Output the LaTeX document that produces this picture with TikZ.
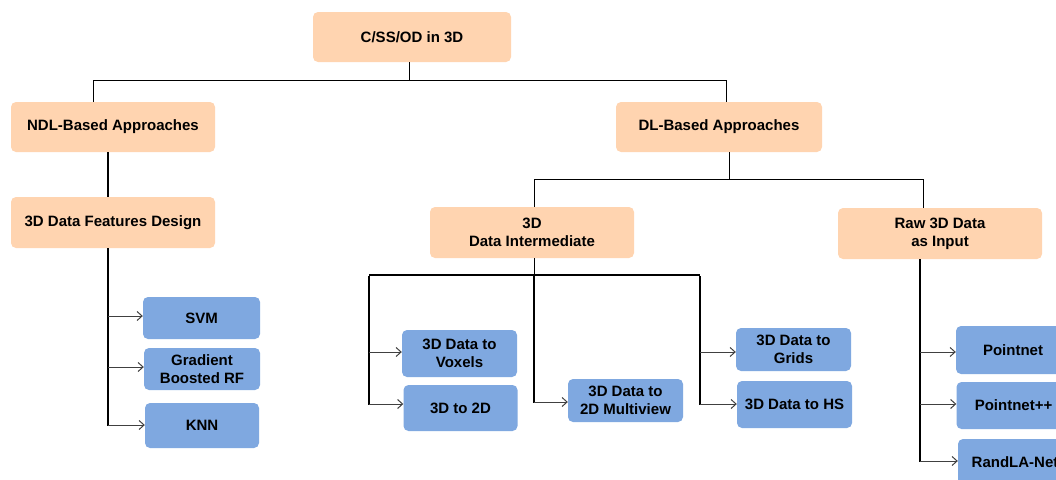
\documentclass[tikz,border=0pt]{standalone}
\usepackage{fontspec}
\setmainfont{Liberation Sans}
\usetikzlibrary{arrows.meta}
\definecolor{peach}{HTML}{FFD4B0}
\definecolor{bluebox}{HTML}{7FA8E0}
\begin{document}
\begin{tikzpicture}[x=1pt,y=-1pt,
  box/.style={rounded corners=5pt, align=center, inner sep=0pt,
    font=\fontsize{15}{18}\selectfont\bfseries},
  obox/.style={box, fill=peach},
  bbox/.style={box, fill=bluebox},
  thin/.style={line width=1pt, black},
  thick/.style={line width=2.5pt, black},
  arr/.style={line width=1pt, black!75, -{Straight Barb[length=5pt,width=9pt,line width=1pt]}}]
\clip (0,0) rectangle (1056,479);
\fill[white] (0,0) rectangle (1056,479);

% orange nodes
\node[obox, minimum width=198pt, minimum height=50pt] (root) at (412,37) {C/SS/OD in 3D};
\node[obox, minimum width=204pt, minimum height=50pt] (ndl) at (113,127) {NDL-Based Approaches};
\node[obox, minimum width=204pt, minimum height=51pt] (feat) at (113,222.5) {3D Data Features Design};
\node[obox, minimum width=206pt, minimum height=50pt] (dl) at (719,127) {DL-Based Approaches};
\node[obox, minimum width=204pt, minimum height=51pt] (inter) at (532,232.5) {3D\\Data Intermediate};
\node[obox, minimum width=204pt, minimum height=51pt] (raw) at (940,233.5) {Raw 3D Data\\as Input};

% blue nodes
\node[bbox, minimum width=117pt, minimum height=42pt] (svm) at (201.5,318) {SVM};
\node[bbox, minimum width=116pt, minimum height=42pt] (gbrf) at (202,369) {Gradient\\Boosted RF};
\node[bbox, minimum width=114pt, minimum height=45pt] (knn) at (202,425.5) {KNN};
\node[bbox, minimum width=115pt, minimum height=47pt] (vox) at (459.5,353.5) {3D Data to\\Voxels};
\node[bbox, minimum width=114pt, minimum height=46pt] (t2d) at (460.5,408) {3D to 2D};
\node[bbox, minimum width=115pt, minimum height=43pt] (mv) at (625.5,400.5) {3D Data to\\2D Multiview};
\node[bbox, minimum width=115pt, minimum height=43pt] (grids) at (793.5,349.5) {3D Data to\\Grids};
\node[bbox, minimum width=115pt, minimum height=47pt] (hs) at (794.5,404.5) {3D Data to HS};
\node[bbox, minimum width=114pt, minimum height=48pt] (pn) at (1013,350) {Pointnet};
\node[bbox, minimum width=114pt, minimum height=47pt] (pnpp) at (1013.5,405.5) {Pointnet++};
\node[bbox, minimum width=114pt, minimum height=47pt] (rla) at (1015,462.5) {RandLA-Net};

% top level tree
\coordinate (b0) at (409,80);
\draw[thin] ([xshift=-3pt]root.south) -- (b0);
\draw[thin] (b0) -| ([xshift=-20pt]ndl.north);
\draw[thin] (b0) -| ([xshift=7pt]dl.north);

% NDL branch
\draw[thick] ([xshift=-5pt]ndl.south) -- ([xshift=-5pt]feat.north);
\coordinate (s1) at (108,426);
\draw[thick] ([xshift=-5pt]feat.south) -- (s1);
\draw[arr] (s1 |- 0,316) -- (svm.west |- 0,316);
\draw[arr] (s1 |- 0,367) -- (gbrf.west |- 0,367);
\draw[arr] (s1 |- 0,425) -- (knn.west |- 0,425);

% DL branch
\coordinate (b1) at (729,179);
\draw[thin] (dl.south -| b1) -- (b1);
\draw[thin] (b1) -| ([xshift=2pt]inter.north);
\draw[thin] (b1) -| ([xshift=-17pt]raw.north);

% intermediate group
\coordinate (m) at (534,275);
\coordinate (ml) at (369,275);
\coordinate (mr) at (700,275);
\draw[thin] ([xshift=2pt]inter.south) -- (m);
\draw[line width=2pt] (ml) -- (mr);
\draw[thick] ([yshift=-1pt]ml) -- (369,405);
\draw[thick] ([yshift=-1pt]mr) -- (700,405);
\draw[line width=2pt] (m) -- (534,403);
\draw[arr] (ml |- 0,352) -- (vox.west |- 0,352);
\draw[arr] (ml |- 0,404) -- (t2d.west |- 0,404);
\draw[arr] (m |- 0,402) -- (mv.west |- 0,402);
\draw[arr] (mr |- 0,352) -- (grids.west |- 0,352);
\draw[arr] (mr |- 0,404) -- (hs.west |- 0,404);

% raw group
\coordinate (r0) at (920,462);
\draw[thick] (raw.south -| r0) -- (r0);
\draw[arr] (r0 |- 0,352) -- (pn.west |- 0,352);
\draw[arr] (r0 |- 0,404) -- (pnpp.west |- 0,404);
\draw[arr] (r0 |- 0,461) -- (rla.west |- 0,461);
\end{tikzpicture}
\end{document}
